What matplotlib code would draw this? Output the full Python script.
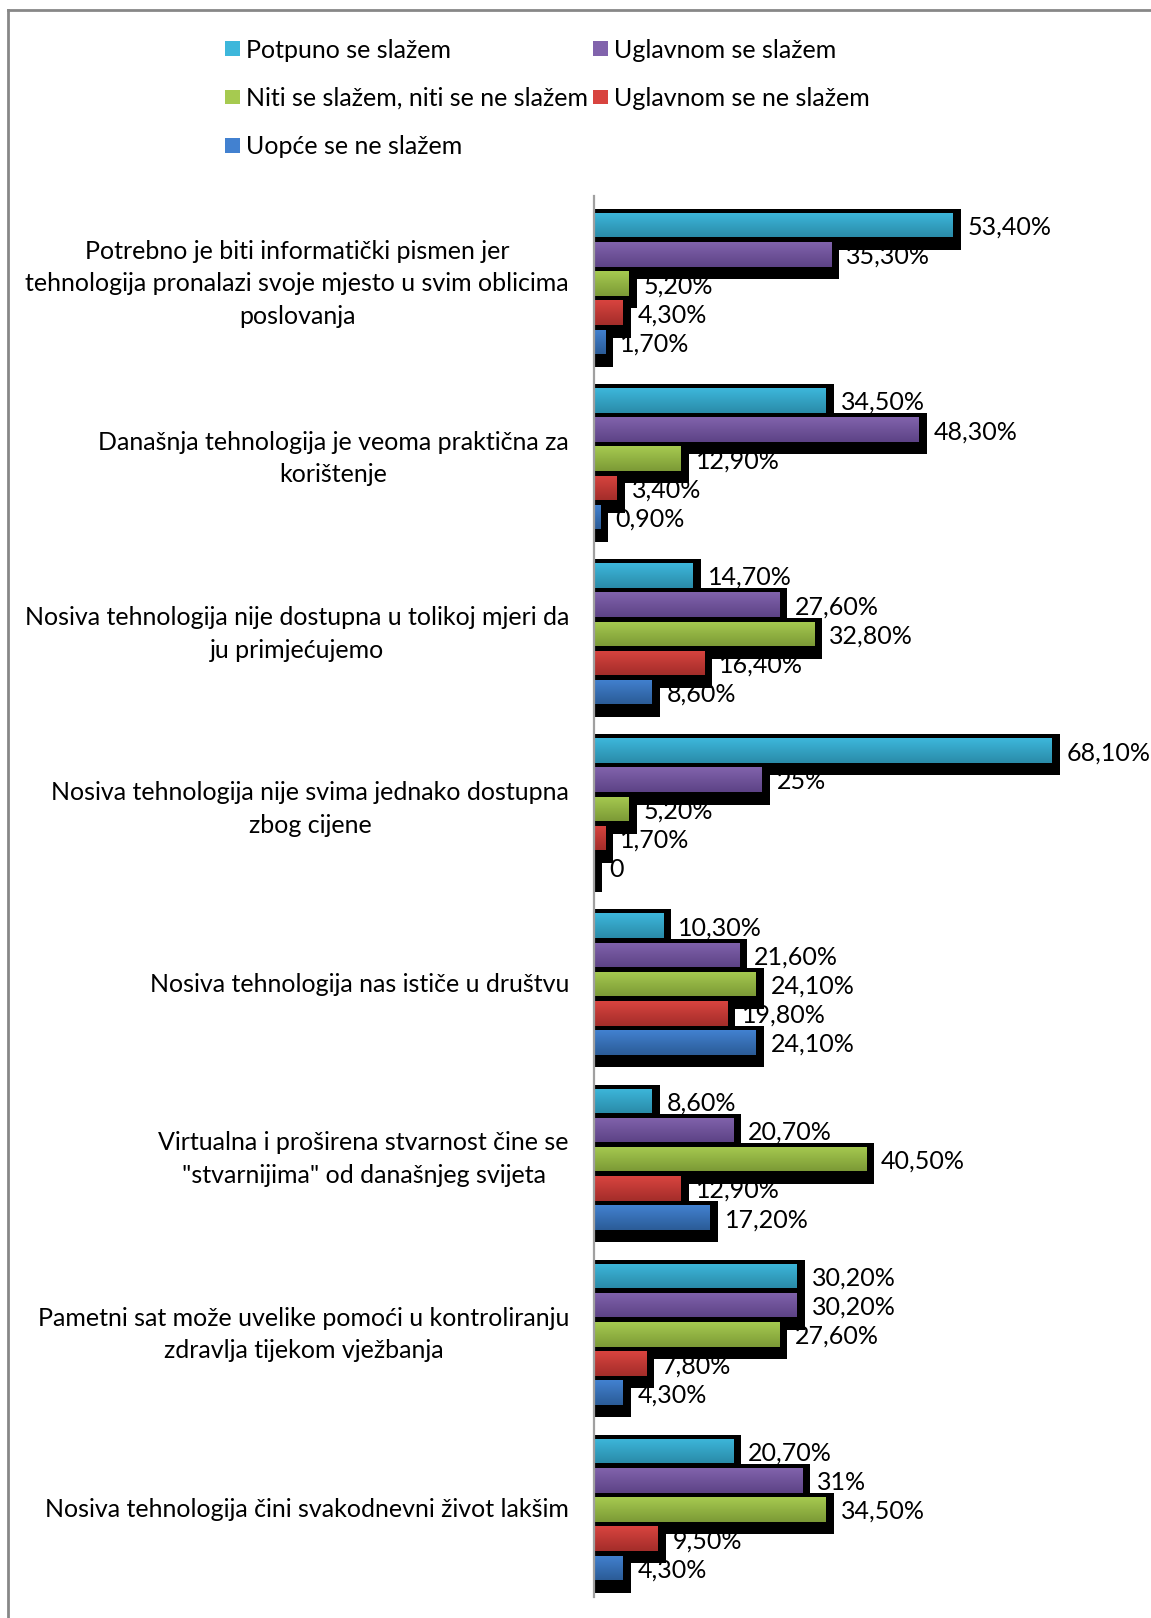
import matplotlib

matplotlib.use("Agg")
import matplotlib.pyplot as plt
import numpy as np
from matplotlib.colors import LinearSegmentedColormap
from matplotlib.lines import Line2D
from matplotlib.patches import Rectangle

plt.rcParams["font.family"] = ["Lato", "DejaVu Sans"]

categories = [
    "Potrebno je biti informatički pismen jer\ntehnologija pronalazi svoje mjesto u svim oblicima\nposlovanja",
    "Današnja tehnologija je veoma praktična za\nkorištenje",
    "Nosiva tehnologija nije dostupna u tolikoj mjeri da\nju primjećujemo",
    "Nosiva tehnologija nije svima jednako dostupna\nzbog cijene",
    "Nosiva tehnologija nas ističe u društvu",
    "Virtualna i proširena stvarnost čine se\n\"stvarnijima\" od današnjeg svijeta",
    "Pametni sat može uvelike pomoći u kontroliranju\nzdravlja tijekom vježbanja",
    "Nosiva tehnologija čini svakodnevni život lakšim",
]
series_names = [
    "Potpuno se slažem",
    "Uglavnom se slažem",
    "Niti se slažem, niti se ne slažem",
    "Uglavnom se ne slažem",
    "Uopće se ne slažem",
]
potpuno = [53.4, 34.5, 14.7, 68.1, 10.3, 8.6, 30.2, 20.7]
uglavnom = [35.3, 48.3, 27.6, 25.0, 21.6, 20.7, 30.2, 31.0]
niti = [5.2, 12.9, 32.8, 5.2, 24.1, 40.5, 27.6, 34.5]
uglavnom_ne = [4.3, 3.4, 16.4, 1.7, 19.8, 12.9, 7.8, 9.5]
uopce = [1.7, 0.9, 8.6, 0.0, 24.1, 17.2, 4.3, 4.3]
series_values = [potpuno, uglavnom, niti, uglavnom_ne, uopce]

# (top colour, bottom colour) for the Excel-like vertical gradient
colors = [
    ("#3DB7DB", "#2A8BA9"),
    ("#8163AC", "#5D4386"),
    ("#A6CA50", "#7C9A36"),
    ("#D8443F", "#A42D2A"),
    ("#4281D0", "#2B5C97"),
]


def pct_label(v):
    if v == 0:
        return "0"
    if float(v).is_integer():
        return f"{int(v)}%"
    return f"{v:.2f}".replace(".", ",") + "%"


W, H = 1151, 1618
fig = plt.figure(figsize=(W / 100, H / 100), dpi=100)
fig.patch.set_facecolor("white")

ax_left, ax_right, ax_top, ax_bottom = 594, 594 + 6.72 * 80, 196, 1597
ax = fig.add_axes([ax_left / W, 1 - ax_bottom / H, (ax_right - ax_left) / W, (ax_bottom - ax_top) / H])

n_series = len(series_values)
slot = 1 / (n_series + 1)
bar_h = slot * 0.84
px_y = (ax_bottom - ax_top) / len(categories)   # pixels per category unit
px_x = 6.72                                      # pixels per percent
y_idx = np.arange(len(categories))

for s, vals in enumerate(series_values):
    offs = (s - (n_series - 1) / 2) * slot
    ys = y_idx + offs
    vals = np.array(vals)
    # black shadow: a bit taller, shifted down and a little longer
    sh_top = 4 / px_y
    sh_bot = 12.5 / px_y
    ax.barh(ys + (sh_bot - sh_top) / 2, vals + 8 / px_x, height=bar_h + sh_top + sh_bot,
            color="black", zorder=1, linewidth=0)
    bars = ax.barh(ys, vals, height=bar_h, color=colors[s][1], zorder=2, linewidth=0)
    cmap = LinearSegmentedColormap.from_list(f"g{s}", list(colors[s]))
    grad = np.linspace(0, 1, 64).reshape(-1, 1)
    for bar, v, yc in zip(bars, vals, ys):
        if v > 0:
            im = ax.imshow(grad, cmap=cmap, aspect="auto", origin="upper", zorder=2.5,
                           extent=(0, v, yc + bar_h / 2, yc - bar_h / 2), interpolation="bilinear")
            im.set_clip_path(bar)
        ax.annotate(pct_label(v), (v, yc), xytext=(10.8, -1.5), textcoords="offset points",
                    ha="left", va="center", fontsize=18, color="black", zorder=0.5)

ax.set_xlim(0, 80)
ax.set_ylim(len(categories) - 0.5, -0.5)
ax.set_xticks([])
ax.set_yticks(y_idx)
ax.set_yticklabels(categories, fontsize=18)
for lab in ax.get_yticklabels():
    lab.set_multialignment("center")
    lab.set_linespacing(1.5)
    lab.set_verticalalignment("center")
ax.tick_params(axis="y", length=0, pad=18)
for side in ("top", "right", "bottom"):
    ax.spines[side].set_visible(False)
ax.spines["left"].set_color("#A0A0A0")
ax.spines["left"].set_linewidth(1.6)
ax.set_facecolor("none")

# legend, laid out like the Excel one (two columns)
leg_cols = [225, 593]
leg_rows = [48.5, 97, 145.5]
sw = 14.5
for i, name in enumerate(series_names):
    col = 0 if i in (0, 2, 4) else 1
    row = [0, 0, 1, 1, 2][i]
    x0, yc = leg_cols[col], leg_rows[row]
    fig.add_artist(Rectangle((x0 / W, 1 - (yc + sw / 2) / H), sw / W, sw / H,
                             transform=fig.transFigure, color=colors[i][0], linewidth=0))
    fig.text((x0 + sw + 7) / W, 1 - (yc + 1.5) / H, name, ha="left", va="center", fontsize=18)

# chart border (top and left edges visible)
fig.add_artist(Line2D([8 / W, 1], [1 - 10 / H] * 2, transform=fig.transFigure, color="#878787", lw=2))
fig.add_artist(Line2D([8 / W] * 2, [0, 1 - 10 / H], transform=fig.transFigure, color="#878787", lw=2))

fig.savefig("out.png", dpi=100, facecolor="white")
